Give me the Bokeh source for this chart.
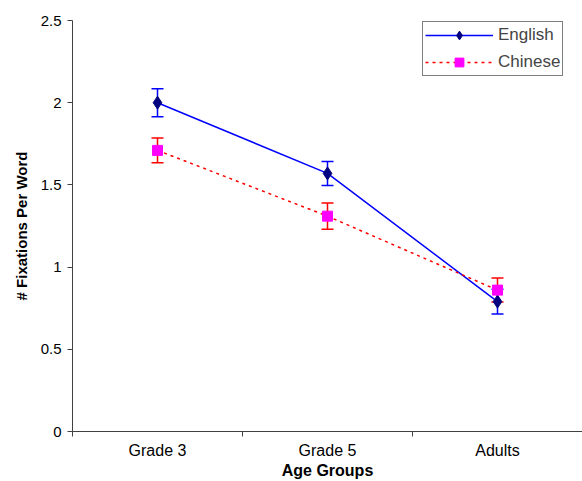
from bokeh.plotting import figure
from bokeh.models import (FixedTicker, ColumnDataSource, Whisker, TeeHead, Legend, LegendItem, Range1d)
from bokeh.embed import file_html
from bokeh.resources import INLINE

categories = ["Grade 3", "Grade 5", "Adults"]
english = [2.00, 1.57, 0.79]
english_err = [0.085, 0.073, 0.075]
chinese = [1.71, 1.31, 0.86]
chinese_err = [0.075, 0.080, 0.073]
y_ticks = [0, 0.5, 1, 1.5, 2, 2.5]
y_tick_labels = ["0", "0.5", "1", "1.5", "2", "2.5"]

FONT = "Liberation Sans"

x = [i + 0.5 for i in range(len(categories))]

p = figure(width=582, height=481, output_backend="svg", toolbar_location=None,
           x_range=Range1d(0, len(categories)), y_range=Range1d(0, 2.5),
           min_border_left=72, min_border_right=0, min_border_top=20, min_border_bottom=50)
p.outline_line_color = None
p.xgrid.visible = False
p.ygrid.visible = False

src_e = ColumnDataSource(dict(x=x, y=english,
                              lo=[v - e for v, e in zip(english, english_err)],
                              hi=[v + e for v, e in zip(english, english_err)]))
src_c = ColumnDataSource(dict(x=x, y=chinese,
                              lo=[v - e for v, e in zip(chinese, chinese_err)],
                              hi=[v + e for v, e in zip(chinese, chinese_err)]))

le = p.line("x", "y", source=src_e, line_color="#0000FF", line_width=1.5)
lc = p.line("x", "y", source=src_c, line_color="#FF0000", line_width=1.5, line_dash="3 4")

for src, col in ((src_e, "#0000FF"), (src_c, "#FF0000")):
    w = Whisker(source=src, base="x", upper="hi", lower="lo", line_color=col, line_width=1.5,
                upper_head=TeeHead(size=12, line_color=col, line_width=1.5),
                lower_head=TeeHead(size=12, line_color=col, line_width=1.5))
    p.add_layout(w)

me = p.scatter("x", "y", source=src_e, marker="diamond", size=13, fill_color="#000080",
               line_color="#000080")
mc = p.scatter("x", "y", source=src_c, marker="square", size=10, fill_color="#FF00FF",
               line_color="#FF00FF")

legend = Legend(items=[LegendItem(label="English", renderers=[le, me]),
                       LegendItem(label="Chinese", renderers=[lc, mc])],
                location=(350, 355), border_line_color="black", border_line_width=1,
                label_text_font=FONT, label_text_font_size="17px", glyph_width=68,
                label_height=18, glyph_height=22,
                label_standoff=5, spacing=5, padding=2, margin=0,
                background_fill_alpha=1)
p.add_layout(legend)

# x axis
p.xaxis.ticker = FixedTicker(ticks=x, minor_ticks=list(range(len(categories) + 1)))
p.xaxis.major_label_overrides = {xx: c for xx, c in zip(x, categories)}
p.xaxis.major_tick_out = 0
p.xaxis.major_tick_in = 0
p.xaxis.minor_tick_out = 5
p.xaxis.minor_tick_in = 0
p.xaxis.axis_label = "Age Groups"
p.xaxis.axis_label_text_font = FONT
p.xaxis.axis_label_text_font_style = "bold"
p.xaxis.axis_label_text_font_size = "16px"
p.xaxis.axis_label_standoff = 0
p.xaxis.major_label_text_font = FONT
p.xaxis.major_label_text_font_size = "16px"
p.xaxis.major_label_standoff = 5

# y axis
p.yaxis.ticker = FixedTicker(ticks=y_ticks, minor_ticks=[])
p.yaxis.major_label_overrides = {t: l for t, l in zip(y_ticks, y_tick_labels)}
p.yaxis.major_tick_out = 5
p.yaxis.major_tick_in = 0
p.yaxis.axis_label = "# Fixations Per Word"
p.yaxis.axis_label_text_font = FONT
p.yaxis.axis_label_text_font_style = "bold"
p.yaxis.axis_label_text_font_size = "15px"
p.yaxis.axis_label_standoff = 8
p.yaxis.major_label_text_font = FONT
p.yaxis.major_label_text_font_size = "15px"
p.yaxis.major_label_standoff = 6

for ax in (p.xaxis, p.yaxis):
    ax.axis_line_color = "#404040"
    ax.major_tick_line_color = "#404040"
    ax.minor_tick_line_color = "#404040"
    ax.major_label_text_color = "black"
    ax.axis_label_text_color = "black"

open("out.html", "w").write(file_html(p, INLINE))
